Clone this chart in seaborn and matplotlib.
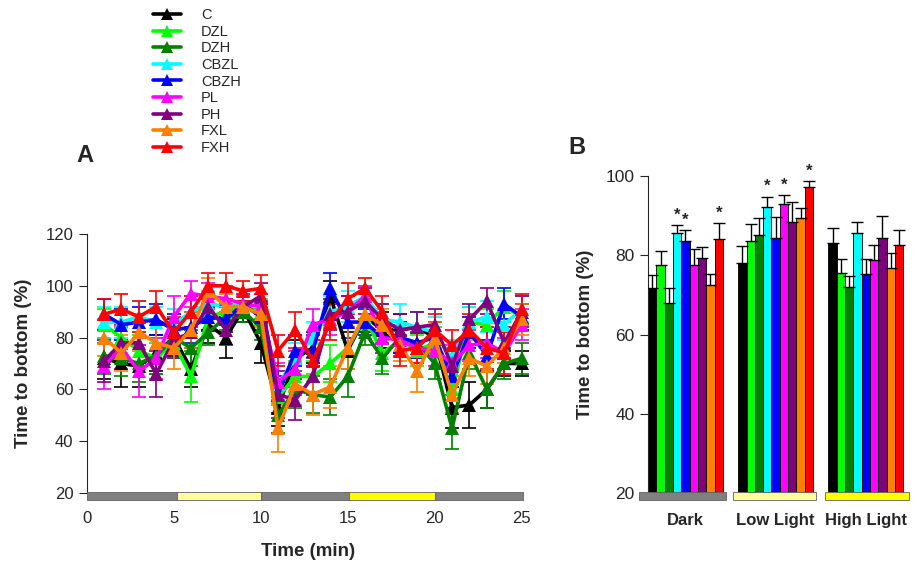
import numpy as np
import pandas as pd
import matplotlib
matplotlib.use("Agg")
import matplotlib.pyplot as plt
import matplotlib.transforms as mtrans
from matplotlib.lines import Line2D
from matplotlib.patches import Rectangle
import seaborn as sns

sns.set_style("ticks")
plt.rcParams['font.family'] = ['Liberation Sans', 'DejaVu Sans']

# ---------------- data ----------------
groups = ["C", "DZL", "DZH", "CBZL", "CBZH", "PL", "PH", "FXL", "FXH"]
colors = ["#000000", "#00FF00", "#008000", "#00FFFF", "#0000FF",
          "#FF00FF", "#800080", "#FF8000", "#FF0000"]
time_min = list(range(1, 26))

C_vals    = [72, 70, 69, 74, 80, 68, 85, 80, 91, 78, 53, 72, 76, 96, 75, 88, 83, 83, 84, 80, 53, 54, 60, 70, 70]
DZL_vals  = [85, 80, 75, 72, 78, 65, 88, 90, 92, 90, 57, 65, 65, 70, 76, 88, 74, 79, 75, 78, 60, 86, 85, 92, 88]
DZH_vals  = [73, 72, 70, 73, 80, 76, 82, 88, 90, 84, 50, 60, 58, 57, 65, 82, 72, 80, 78, 70, 45, 74, 60, 70, 72]
CBZL_vals = [86, 86, 88, 86, 85, 90, 93, 92, 93, 92, 62, 72, 80, 90, 92, 96, 87, 86, 84, 82, 72, 86, 88, 85, 91]
CBZH_vals = [89, 85, 86, 87, 83, 84, 88, 87, 93, 88, 58, 75, 75, 99, 86, 86, 80, 80, 78, 80, 65, 82, 73, 93, 88]
PL_vals   = [69, 76, 67, 72, 88, 97, 96, 95, 93, 92, 63, 68, 85, 87, 90, 96, 80, 79, 76, 75, 70, 77, 78, 74, 85]
PH_vals   = [71, 78, 78, 66, 79, 82, 92, 83, 92, 96, 58, 56, 65, 89, 90, 94, 87, 83, 84, 85, 69, 87, 94, 78, 90]
FXL_vals  = [80, 74, 82, 78, 76, 83, 98, 92, 92, 89, 45, 62, 58, 61, 76, 89, 85, 77, 67, 80, 58, 72, 69, 76, 87]
FXH_vals  = [89, 91, 88, 92, 82, 90, 100, 100, 98, 99, 75, 83, 71, 86, 95, 99, 90, 75, 76, 83, 77, 83, 76, 74, 91]

C_err    = [8, 9, 8, 7, 7, 7, 7, 8, 5, 8, 7, 7, 6, 6, 7, 6, 7, 6, 6, 6, 8, 9, 7, 5, 5]
DZL_err  = [6, 6, 6, 6, 6, 10, 5, 5, 4, 5, 6, 6, 6, 7, 8, 5, 7, 6, 6, 6, 7, 6, 6, 6, 5]
DZH_err  = [7, 7, 7, 7, 6, 7, 5, 5, 4, 5, 7, 7, 7, 7, 8, 5, 6, 6, 6, 6, 8, 6, 7, 6, 6]
CBZL_err = [6, 6, 6, 6, 6, 6, 5, 5, 4, 5, 7, 6, 6, 6, 6, 4, 6, 7, 6, 6, 7, 6, 6, 6, 5]
CBZH_err = [6, 6, 6, 6, 6, 6, 5, 5, 4, 5, 7, 6, 6, 6, 6, 5, 6, 6, 6, 6, 7, 6, 6, 6, 5]
PL_err   = [9, 8, 10, 8, 8, 5, 5, 5, 4, 5, 7, 7, 6, 6, 6, 4, 6, 6, 6, 6, 7, 6, 6, 6, 6]
PH_err   = [8, 8, 8, 9, 7, 6, 5, 6, 4, 5, 9, 8, 7, 6, 6, 5, 6, 6, 6, 6, 7, 6, 5, 6, 6]
FXL_err  = [7, 7, 7, 7, 8, 7, 5, 5, 4, 5, 9, 8, 8, 8, 8, 5, 6, 6, 8, 6, 7, 7, 7, 6, 6]
FXH_err  = [6, 6, 6, 6, 6, 6, 5, 5, 4, 5, 6, 7, 8, 7, 6, 4, 6, 6, 6, 6, 6, 6, 8, 8, 6]

series_vals = [C_vals, DZL_vals, DZH_vals, CBZL_vals, CBZH_vals, PL_vals, PH_vals, FXL_vals, FXH_vals]
series_err = [C_err, DZL_err, DZH_err, CBZL_err, CBZH_err, PL_err, PH_err, FXL_err, FXH_err]

conditions = ["Dark", "Low Light", "High Light"]
dark_means = [71.8, 77.6, 67.9, 85.5, 83.6, 77.6, 79.2, 72.4, 84.1]
dark_err   = [3.2, 3.6, 3.8, 2.1, 2.8, 3.9, 3.0, 2.9, 4.0]
low_means  = [78.0, 83.6, 85.0, 92.1, 84.3, 92.9, 88.3, 89.3, 97.3]
low_err    = [4.4, 4.4, 4.3, 2.7, 5.4, 2.3, 5.2, 2.7, 1.5]
high_means = [83.2, 75.5, 72.1, 85.5, 75.2, 78.8, 84.3, 76.7, 82.6]
high_err   = [3.6, 3.5, 2.8, 3.0, 3.9, 3.8, 5.7, 3.8, 3.8]
sig_dark = ["CBZL", "CBZH", "FXH"]
sig_low = ["CBZL", "PL", "FXH"]

light_periods = [(0, 5.2), (5.2, 10), (10, 15.1), (15.1, 20), (20, 25.05)]
light_colors = ["#808080", "#FFFF99", "#808080", "#FFFF00", "#808080"]

# ---------------- figure ----------------
fig = plt.figure(figsize=(9.23, 5.64), dpi=100)
axA = fig.add_axes([0.0939, 0.1259, 0.4807, 0.4592])
axB = fig.add_axes([0.7017, 0.1254, 0.2828, 0.5626])

palette = dict(zip(groups, colors))

# Panel A
dfA = pd.DataFrame({
    "t": np.tile(time_min, len(groups)),
    "v": np.concatenate(series_vals),
    "g": np.repeat(groups, len(time_min)),
})
for g, vals, errs, col in zip(groups, series_vals, series_err, colors):
    axA.errorbar(time_min, vals, yerr=errs, fmt="none", ecolor=col,
                 elinewidth=1.2, capsize=5, capthick=1.2, zorder=2)
sns.lineplot(data=dfA, x="t", y="v", hue="g", palette=palette, marker="^",
             markersize=10, markeredgewidth=0, linewidth=2.6, legend=False,
             ax=axA, zorder=3)

axA.set_xlim(0, 25.5)
axA.set_ylim(20, 120)
axA.set_yticks([20, 40, 60, 80, 100, 120])
axA.set_xticks([0, 5, 10, 15, 20, 25])
axA.spines["top"].set_visible(False)
axA.spines["right"].set_visible(False)
axA.spines["bottom"].set_visible(False)
axA.tick_params(axis="x", length=0, pad=13, labelsize=12)
axA.tick_params(axis="y", length=6, labelsize=12)
axA.set_xlabel("Time (min)", fontsize=13.5, fontweight="bold", labelpad=12)
axA.set_ylabel("Time to bottom (%)", fontsize=13.5, fontweight="bold", labelpad=10)

transA = mtrans.blended_transform_factory(axA.transData, axA.transAxes)
for (x0, x1), c in zip(light_periods, light_colors):
    axA.add_patch(Rectangle((x0, -0.027), x1 - x0, 0.031, transform=transA,
                            facecolor=c, edgecolor="#606060", linewidth=0.6,
                            clip_on=False, zorder=5))

# Panel B
dfB = pd.DataFrame({
    "cond": np.repeat(conditions, len(groups)),
    "g": groups * 3,
    "val": dark_means + low_means + high_means,
})
errB = dark_err + low_err + high_err
sns.barplot(data=dfB, x="cond", y="val", hue="g", hue_order=groups,
            order=conditions, palette=palette, saturation=1, width=0.83, gap=0,
            edgecolor="black", linewidth=0.6, legend=False, ax=axB, zorder=2)

patches = sorted(axB.patches, key=lambda p: p.get_x())
sig_sets = [sig_dark, sig_low, []]
for i, p in enumerate(patches):
    ci, gi = divmod(i, len(groups))
    xc = p.get_x() + p.get_width() / 2
    top = dfB["val"].iloc[i]
    e = errB[i]
    axB.errorbar([xc], [top], yerr=[[0], [e]], fmt="none", ecolor="black",
                 elinewidth=1.0, capsize=4, capthick=1.0, zorder=3)
    if groups[gi] in sig_sets[ci]:
        axB.text(xc, top + e + 0.6, "*", ha="center", va="bottom",
                 fontsize=12, fontweight="bold")

axB.set_xlim(-0.419, 2.476)
axB.set_ylim(20, 100)
axB.set_yticks([20, 40, 60, 80, 100])
axB.spines["top"].set_visible(False)
axB.spines["right"].set_visible(False)
axB.spines["bottom"].set_visible(False)
axB.tick_params(axis="x", length=0, pad=14, labelsize=12)
axB.tick_params(axis="y", length=6, labelsize=12.5)
for lab in axB.get_xticklabels():
    lab.set_fontweight("bold")
axB.set_xlabel("")
axB.set_ylabel("Time to bottom (%)", fontsize=13.5, fontweight="bold", labelpad=8)

transB = mtrans.blended_transform_factory(axB.transData, axB.transAxes)
b_blocks = [(-0.516, 0.449, "#808080"), (0.526, 1.446, "#FFFF99"), (1.546, 2.476, "#FFFF00")]
for x0, x1, c in b_blocks:
    axB.add_patch(Rectangle((x0, -0.022), x1 - x0, 0.025, transform=transB,
                            facecolor=c, edgecolor="#606060", linewidth=0.6,
                            clip_on=False, zorder=5))

# Legend
handles = [Line2D([0], [0], color=c, lw=2.6, marker="^", markersize=9,
                  markeredgewidth=0) for c in colors]
fig.legend(handles, groups, loc="upper left", bbox_to_anchor=(153 / 923, 1 - 8 / 564),
           frameon=False, fontsize=10.5, labelspacing=0.18, handlelength=1.9,
           handletextpad=1.4, borderpad=0, borderaxespad=0)

fig.text(85 / 923, 1 - 155 / 564, "A", fontsize=17, fontweight="bold", ha="center", va="center")
fig.text(577 / 923, 1 - 148 / 564, "B", fontsize=17, fontweight="bold", ha="center", va="center")

fig.savefig("out.png", dpi=100)
